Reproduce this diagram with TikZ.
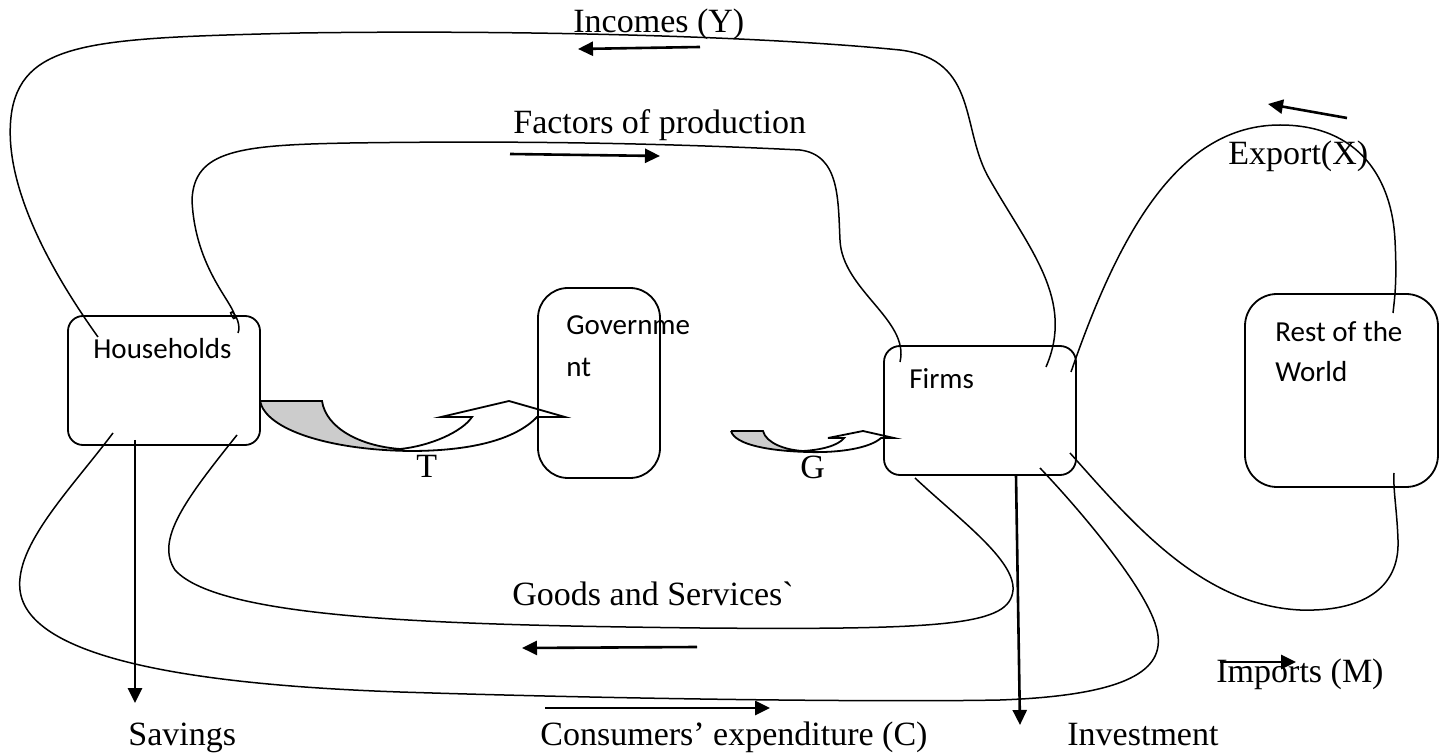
\documentclass[tikz,border=0pt]{standalone}
\usepackage{fontspec}
\setmainfont{Liberation Serif}
\newfontfamily\calib{Carlito}
\usetikzlibrary{arrows.meta}
\begin{document}
\begin{tikzpicture}[x=0.5pt,y=-0.5pt,
  box/.style={draw, line width=0.9pt, rounded corners=#1, inner sep=0pt},
  flow/.style={line width=0.75pt},
  arr/.style={line width=1.3pt, -{Triangle[length=7.5pt,width=7pt]}},
  lbl/.style={font=\fontsize{17}{20}\selectfont, anchor=base west, inner sep=0pt},
  blbl/.style={font=\calib\fontsize{14.5}{21}\selectfont, anchor=base west, inner sep=0pt},
  shade/.style={fill=black!20},
  blockarrow/.style={line width=0.9pt, line join=miter}]
\useasboundingbox (0,0) rectangle (1442,754);

% boxes
\node (hh) [box=7.5pt, minimum width=96pt, minimum height=64.5pt] at (164,380.5) {};
\node (gov) [box=15pt, minimum width=61pt, minimum height=95pt] at (599,383) {};
\node (firms) [box=8pt, minimum width=96pt, minimum height=64.5pt] at (980,410.5) {};
\node (row) [box=16pt, minimum width=96.5pt, minimum height=96.5pt] at (1341.5,390.5) {};

% box labels
\node (hhl) [blbl] at (93,359) {Households};
\node (govl1) [blbl] at (566,335) {Governme};
\node (govl2) [blbl] at (566,377) {nt};
\node (firmsl) [blbl] at (909,389) {Firms};
\node (rowl1) [blbl] at (1275,342) {Rest of the};
\node (rowl2) [blbl] at (1275,382) {World};

% flow labels
\node (inc) [lbl] at (573,33) {Incomes (Y)};
\node (fac) [lbl] at (513,134) {Factors of production};
\node (exp) [lbl] at (1228,165) {Export(X)};
\node (tl) [lbl] at (416,478) {T};
\node (gl) [lbl] at (800,479) {G};
\node (gsl) [lbl] at (512,605) {Goods and Services\textasciigrave};
\node (imp) [lbl] at (1216,682) {Imports (M)};
\node (sav) [lbl] at (128,745) {Savings};
\node (cons) [lbl] at (540,745) {Consumers’ expenditure (C)};
\node (inv) [lbl] at (1067,745) {Investment};

% connector end points
\coordinate (inc1) at (98,337);
\coordinate (inc2) at (1046,367);
\coordinate (fac1) at (238,333);
\coordinate (fac2) at (900,362);
\coordinate (gs1) at (915,478);
\coordinate (gs2) at (237,435);
\coordinate (ce1) at (113,433);
\coordinate (ce2) at (1040,468);
\coordinate (im1) at (1070,453);
\coordinate (im2) at (1394,473);
\coordinate (ex1) at (1071,372);
\coordinate (ex2) at (1393,313);

% incomes loop
\draw[flow] (inc1) .. controls (50,270) and (0,180) .. (12,110)
  .. controls (25,40) and (100,38) .. (300,33)
  .. controls (500,30) and (750,35) .. (900,50)
  .. controls (980,60) and (960,130) .. (990,180)
  .. controls (1030,250) and (1075,300) .. (inc2);

% factors loop
\draw[flow] (fac1) .. controls (241,326) and (236,314) .. (232,312)
  .. controls (228,310) and (234,322) .. (235,318)
  .. controls (236,305) and (195,270) .. (192,200)
  .. controls (194,150) and (240,145) .. (350,143)
  .. controls (550,140) and (700,145) .. (800,150)
  .. controls (840,155) and (838,200) .. (840,240)
  .. controls (842,290) and (910,320) .. (fac2);

% goods and services loop
\draw[flow] (gs1) .. controls (960,520) and (1015,560) .. (1013,590)
  .. controls (1010,625) and (950,630) .. (700,628)
  .. controls (450,625) and (220,620) .. (175,570)
  .. controls (155,540) and (185,500) .. (gs2);

% consumers' expenditure loop
\draw[flow] (ce1) .. controls (70,490) and (15,545) .. (20,590)
  .. controls (28,660) and (200,685) .. (400,692)
  .. controls (650,700) and (900,702) .. (1000,700)
  .. controls (1140,695) and (1165,665) .. (1157,630)
  .. controls (1148,590) and (1080,510) .. (ce2);

% imports loop
\draw[flow] (im1) .. controls (1130,520) and (1200,605) .. (1300,610)
  .. controls (1360,612) and (1400,590) .. (1398,540)
  .. controls (1397,510) and (1393,490) .. (im2);

% export loop
\draw[flow] (ex1) .. controls (1120,230) and (1180,125) .. (1280,125)
  .. controls (1360,125) and (1392,180) .. (1395,240)
  .. controls (1397,280) and (1395,295) .. (ex2);

% direction arrows
\coordinate (a1s) at (700,47);  \coordinate (a1e) at (578,49);
\coordinate (a2s) at (510,154); \coordinate (a2e) at (660,156);
\coordinate (a3s) at (1347,118); \coordinate (a3e) at (1268,104);
\coordinate (a4s) at (697,647); \coordinate (a4e) at (522,648);
\coordinate (a5s) at (545,708); \coordinate (a5e) at (770,708);
\coordinate (a6s) at (1220,662); \coordinate (a6e) at (1296,662);
\draw[arr] (a1s) -- (a1e);
\draw[arr] (a2s) -- (a2e);
\draw[arr] (a3s) -- (a3e);
\draw[arr] (a4s) -- (a4e);
\draw[arr] (a5s) -- (a5e);
\draw[arr] (a6s) -- (a6e);

% savings and investment
\coordinate (svs) at (135,440); \coordinate (sve) at (135,703);
\coordinate (ivs) at (1016,475); \coordinate (ive) at (1020,725);
\draw[arr] (svs) -- (sve);
\draw[arr] (ivs) -- (ive);

% T block arrow
\fill[shade] (260,401) -- (322,401) .. controls (326,428) and (360,446) .. (400,449)
  .. controls (330,450) and (266,430) .. (260,401) -- cycle;
\draw[blockarrow] (260,401) -- (322,401) .. controls (326,428) and (360,446) .. (400,449)
  .. controls (430,446) and (462,432) .. (472,417) -- (441,417) -- (509,401) -- (565,417) -- (537,417)
  .. controls (515,440) and (470,451) .. (410,451) .. controls (330,450) and (266,430) .. (260,401);

% G block arrow
\fill[shade] (731,431) -- (763,431) .. controls (766,443) and (785,450) .. (803,451)
  .. controls (770,451) and (735,445) .. (731,431) -- cycle;
\draw[blockarrow] (731,431) -- (763,431) .. controls (766,443) and (785,450) .. (803,451)
  .. controls (820,450) and (838,446) .. (844,438) -- (828,438) -- (863,431) -- (894,438) -- (881,438)
  .. controls (870,448) and (840,453) .. (808,452) .. controls (770,451) and (735,445) .. (731,431);
\end{tikzpicture}
\end{document}
